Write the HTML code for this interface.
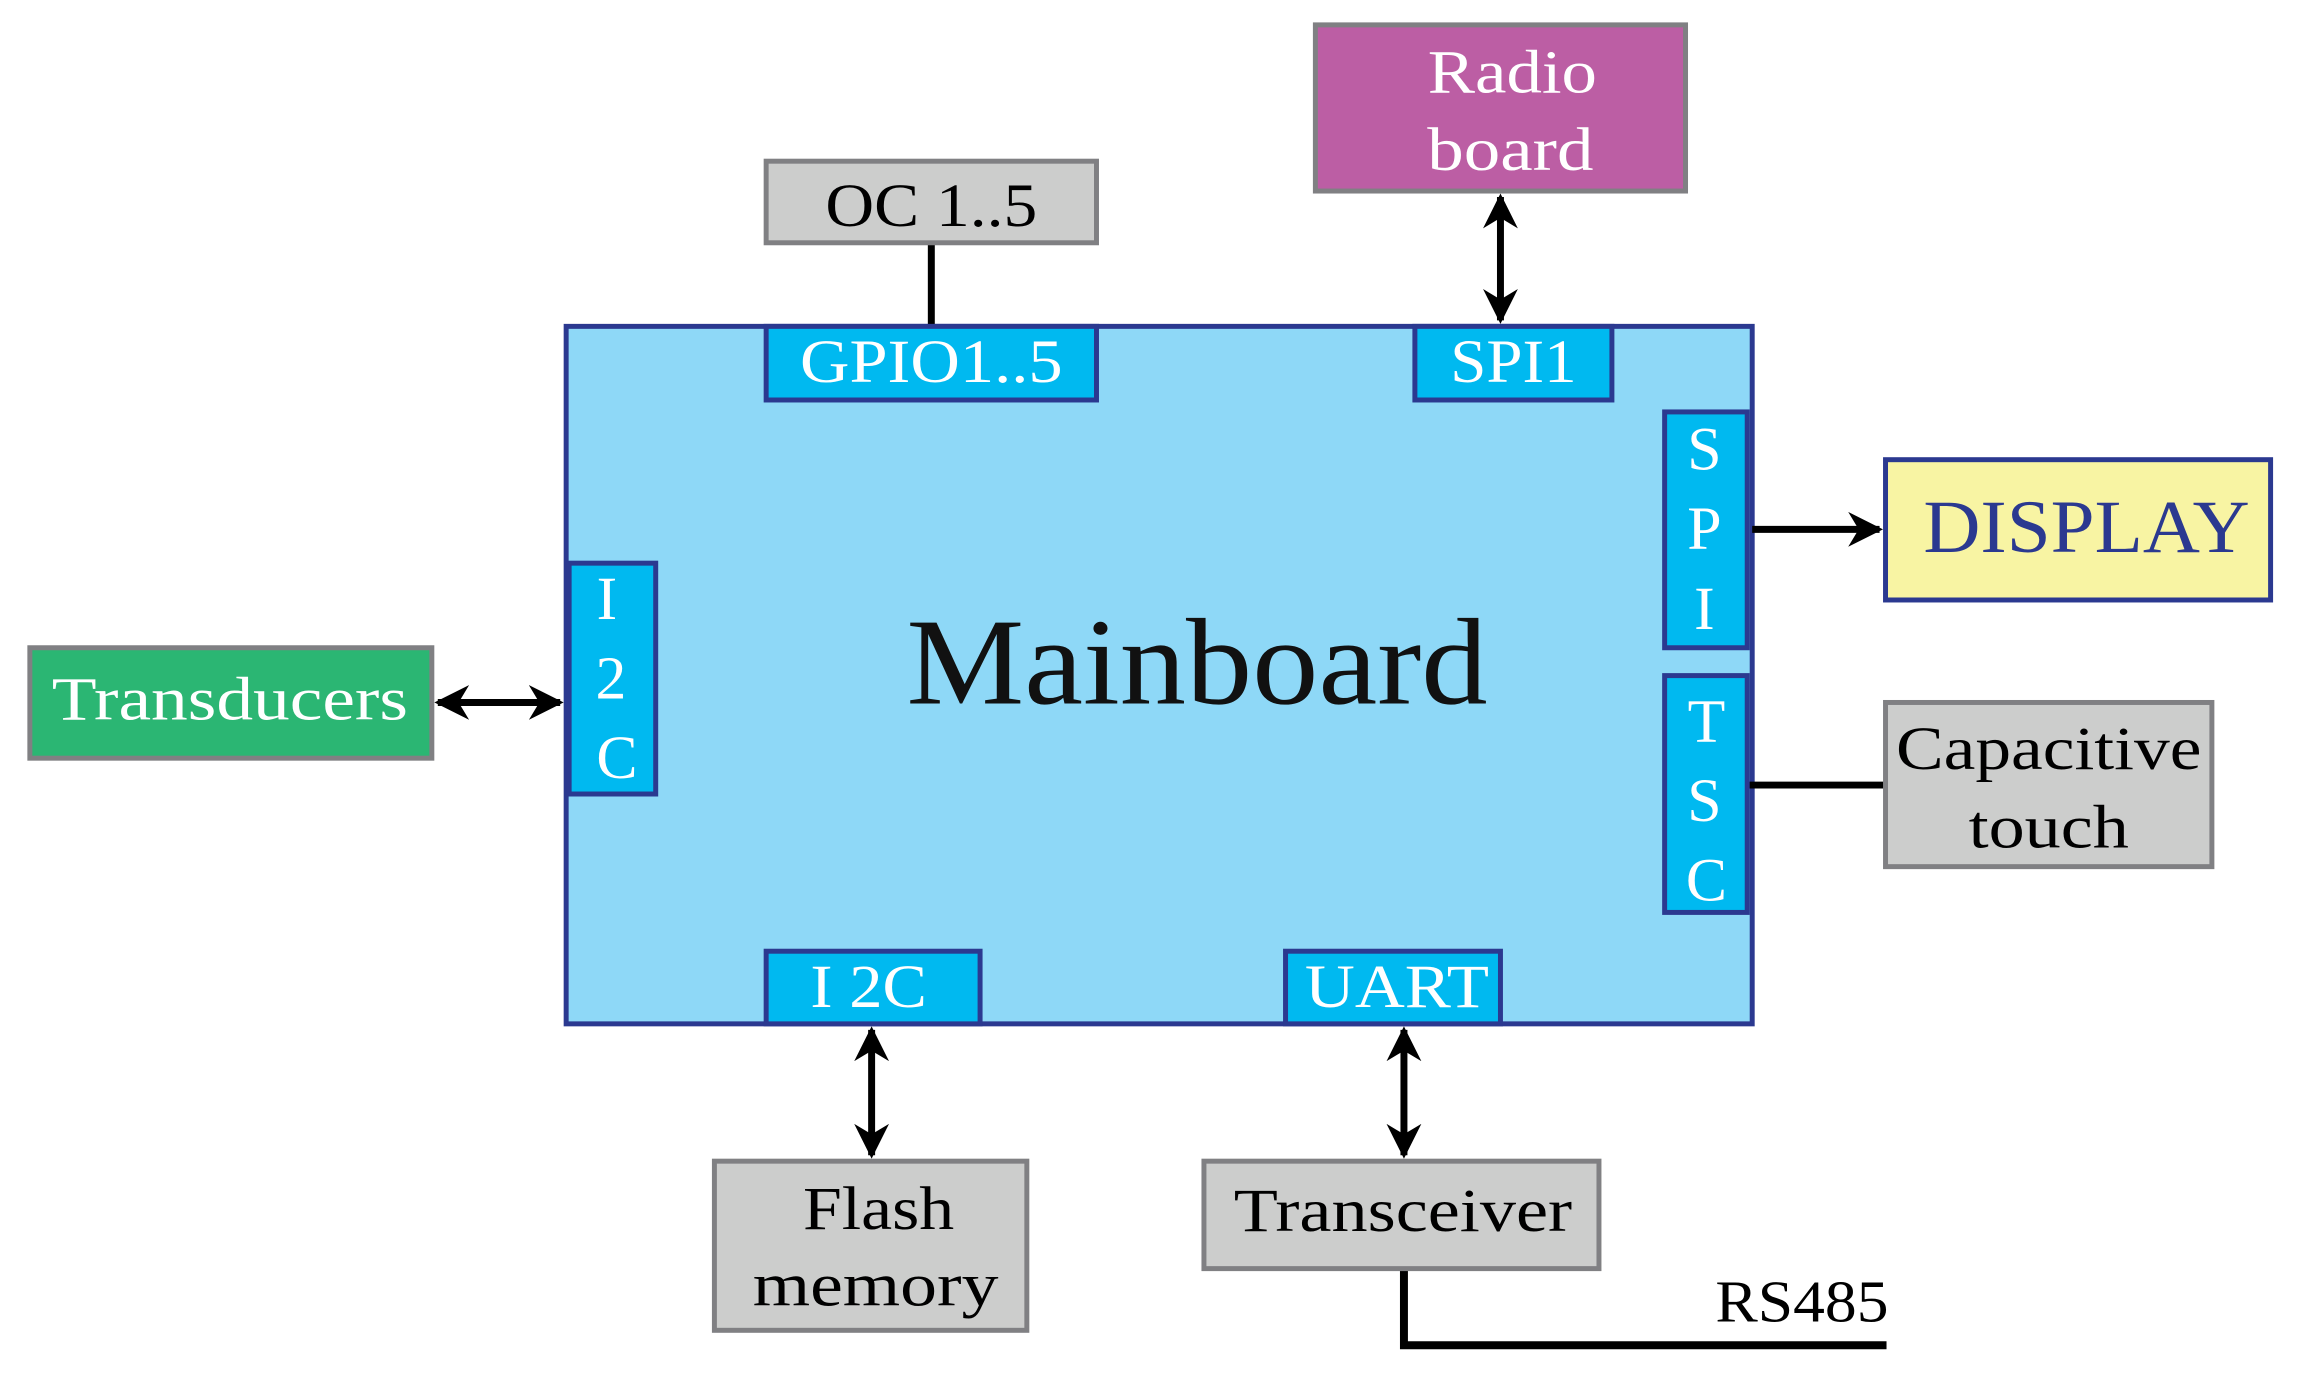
<!DOCTYPE html>
<html><head><style>html,body{margin:0;padding:0;background:#fff}svg{display:block}</style></head>
<body>
<svg width="2304" height="1381" viewBox="0 0 2304 1381" xmlns="http://www.w3.org/2000/svg" font-family="'Liberation Serif', serif">
<defs>
<marker id="ah" viewBox="0 0 10 10" refX="9" refY="5" markerWidth="5" markerHeight="5" orient="auto-start-reverse" markerUnits="strokeWidth">
<path d="M0,0 L10,5 L0,10 L3,5 z" fill="#000"/></marker>
</defs>
<g transform="scale(0.995)">
<rect x="569" y="328" width="1192" height="701" fill="#8ed8f7" stroke="#2b3990" stroke-width="5"/>
<text x="1203" y="707" font-size="124" text-anchor="middle" fill="#111" textLength="584" lengthAdjust="spacingAndGlyphs">Mainboard</text>

<line x1="936" y1="244" x2="936" y2="328" stroke="#000" stroke-width="7"/>
<line x1="1508" y1="198" x2="1508" y2="322" stroke="#000" stroke-width="7" marker-start="url(#ah)" marker-end="url(#ah)"/>
<line x1="1761" y1="532" x2="1889" y2="532" stroke="#000" stroke-width="7" marker-end="url(#ah)"/>
<line x1="1756" y1="789" x2="1895" y2="789" stroke="#000" stroke-width="7"/>
<line x1="440" y1="706" x2="563" y2="706" stroke="#000" stroke-width="7" marker-start="url(#ah)" marker-end="url(#ah)"/>
<line x1="876" y1="1035" x2="876" y2="1161" stroke="#000" stroke-width="7" marker-start="url(#ah)" marker-end="url(#ah)"/>
<line x1="1411" y1="1035" x2="1411" y2="1161" stroke="#000" stroke-width="7" marker-start="url(#ah)" marker-end="url(#ah)"/>
<polyline points="1411,1275 1411,1352 1896,1352" fill="none" stroke="#000" stroke-width="8"/>
<text x="1811" y="1328" font-size="60" text-anchor="middle" fill="#000" textLength="174" lengthAdjust="spacingAndGlyphs">RS485</text>

<g stroke="#2b3990" stroke-width="5" fill="#00b9f0">
<rect x="770" y="328" width="332" height="74"/>
<rect x="1422" y="328" width="198" height="74"/>
<rect x="1673" y="414" width="83" height="237"/>
<rect x="1673" y="679" width="83" height="238"/>
<rect x="572" y="566" width="87" height="232"/>
<rect x="770" y="956" width="215" height="73"/>
<rect x="1292" y="956" width="216" height="73"/>
</g>
<g fill="#fff" font-size="62" text-anchor="middle" lengthAdjust="spacingAndGlyphs">
<text x="936" y="384" textLength="264" lengthAdjust="spacingAndGlyphs">GPIO1..5</text>
<text x="1521" y="384" textLength="127" lengthAdjust="spacingAndGlyphs">SPI1</text>
<text x="1713" y="472">S</text><text x="1713" y="552">P</text><text x="1713" y="632">I</text>
<text x="1715" y="745">T</text><text x="1713" y="825">S</text><text x="1715" y="905">C</text>
<text x="610" y="622">I</text><text x="614" y="702">2</text><text x="620" y="782">C</text>
<text x="873" y="1012" textLength="117" lengthAdjust="spacingAndGlyphs">I 2C</text>
<text x="1404" y="1012" textLength="185" lengthAdjust="spacingAndGlyphs">UART</text>
</g>

<rect x="770" y="162" width="332" height="82" fill="#cccdcc" stroke="#808083" stroke-width="5"/>
<text x="936" y="227" font-size="62" text-anchor="middle" fill="#000" textLength="213" lengthAdjust="spacingAndGlyphs">OC 1..5</text>

<rect x="1322" y="25" width="372" height="167" fill="#bc5ea4" stroke="#808083" stroke-width="5"/>
<text x="1520" y="93" font-size="62" text-anchor="middle" fill="#fff" textLength="170" lengthAdjust="spacingAndGlyphs">Radio</text>
<text x="1518" y="171" font-size="62" text-anchor="middle" fill="#fff" textLength="167" lengthAdjust="spacingAndGlyphs">board</text>

<rect x="1895" y="462" width="387" height="141" fill="#f8f4a3" stroke="#2b3990" stroke-width="5"/>
<text x="2097" y="555" font-size="76" text-anchor="middle" fill="#2b3990" textLength="328" lengthAdjust="spacingAndGlyphs">DISPLAY</text>

<rect x="1895" y="706" width="328" height="165" fill="#cccdcc" stroke="#808083" stroke-width="5"/>
<text x="2059" y="773" font-size="62" text-anchor="middle" fill="#000" textLength="307" lengthAdjust="spacingAndGlyphs">Capacitive</text>
<text x="2059" y="852" font-size="62" text-anchor="middle" fill="#000" textLength="161" lengthAdjust="spacingAndGlyphs">touch</text>

<rect x="30" y="651" width="404" height="111" fill="#2bb673" stroke="#808083" stroke-width="5"/>
<text x="231" y="723" font-size="62" text-anchor="middle" fill="#fff" textLength="358" lengthAdjust="spacingAndGlyphs">Transducers</text>

<rect x="718" y="1167" width="314" height="170" fill="#cccdcc" stroke="#808083" stroke-width="5"/>
<text x="883" y="1235" font-size="62" text-anchor="middle" fill="#000" textLength="152" lengthAdjust="spacingAndGlyphs">Flash</text>
<text x="880" y="1312" font-size="62" text-anchor="middle" fill="#000" textLength="247" lengthAdjust="spacingAndGlyphs">memory</text>

<rect x="1210" y="1167" width="397" height="108" fill="#cccdcc" stroke="#808083" stroke-width="5"/>
<text x="1410" y="1237" font-size="62" text-anchor="middle" fill="#000" textLength="340" lengthAdjust="spacingAndGlyphs">Transceiver</text>
</g>
</svg>
</body></html>
